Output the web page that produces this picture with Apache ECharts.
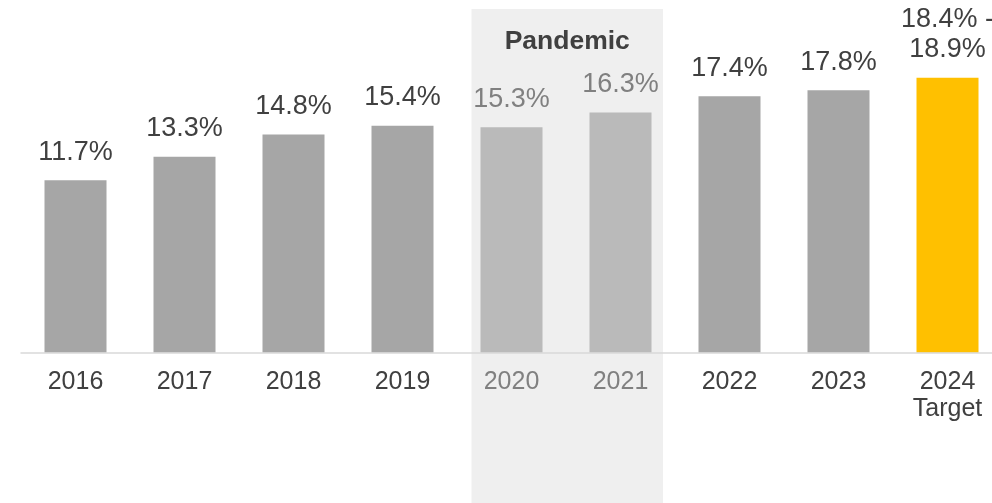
<!DOCTYPE html>
<html>
<head>
<meta charset="utf-8">
<script src="https://cdn.jsdelivr.net/npm/echarts@6/dist/echarts.min.js"></script>
<style>
  html, body { margin: 0; padding: 0; background: #ffffff; overflow: hidden; }
  #chart { width: 1002px; height: 503px; }
</style>
</head>
<body>
<div id="chart"></div>
<script>
// Years on the category axis; the final year is the target
const categories = ['2016', '2017', '2018', '2019', '2020', '2021', '2022', '2023', '2024\nTarget'];
// Share per year (%); the 2024 target is drawn at the middle of its range
const values = [11.7, 13.3, 14.8, 15.4, 15.3, 16.3, 17.4, 17.8, 18.65];
// Text printed above each bar
const valueLabels = ['11.7%', '13.3%', '14.8%', '15.4%', '15.3%', '16.3%', '17.4%', '17.8%', '18.4% -\n18.9%'];
// Years inside the highlighted pandemic band
const pandemicYears = ['2020', '2021'];
const bandTitle = 'Pandemic';
const targetCategory = '2024\nTarget';

const FONT = '"Liberation Sans", Arial, Helvetica, sans-serif';
const DARK = '#404040';
const MUTED = '#808080';

const chart = echarts.init(document.getElementById('chart'), null, { renderer: 'canvas' });

const barData = values.map((v, i) => {
  const cat = categories[i];
  let color = '#a6a6a6';
  if (pandemicYears.includes(cat)) color = '#bababa';
  if (cat === targetCategory) color = '#ffc000';
  return {
    value: v,
    itemStyle: { color: color },
    label: { color: pandemicYears.includes(cat) ? MUTED : DARK }
  };
});

chart.setOption({
  animation: false,
  backgroundColor: '#ffffff',
  grid: { left: 21, top: 28.4, right: 0, height: 324.3 },
  xAxis: {
    type: 'category',
    data: categories,
    axisLine: { show: true, lineStyle: { color: '#d9d9d9', width: 1.5 } },
    axisTick: { show: false },
    axisLabel: {
      margin: 16,
      fontFamily: FONT,
      fontSize: 25,
      lineHeight: 27,
      color: function (v) { return pandemicYears.includes(v) ? MUTED : DARK; }
    },
    z: 3
  },
  yAxis: {
    type: 'value',
    min: 0,
    max: 22,
    show: false,
    splitLine: { show: false }
  },
  series: [{
    type: 'bar',
    data: barData,
    barWidth: 62,
    label: {
      show: true,
      position: 'top',
      distance: 13,
      fontFamily: FONT,
      fontSize: 27,
      lineHeight: 30,
      formatter: function (p) { return valueLabels[p.dataIndex]; }
    },
    z: 2
  }]
});

// Shaded band behind the pandemic years, placed from the axis scale
function drawBand() {
  const first = chart.convertToPixel({ xAxisIndex: 0 }, pandemicYears[0]);
  const last = chart.convertToPixel({ xAxisIndex: 0 }, pandemicYears[pandemicYears.length - 1]);
  const band = chart.getModel().getComponent('xAxis', 0).axis.getBandWidth();
  const left = first - band * 0.367;
  const right = last + band * 0.39;
  const h = chart.getHeight();
  chart.setOption({
    graphic: [
      {
        type: 'rect',
        z: -10,
        silent: true,
        shape: { x: left, y: 9, width: right - left, height: h - 9 },
        style: { fill: '#efefef' }
      },
      {
        type: 'text',
        z: 5,
        silent: true,
        x: (left + right) / 2,
        y: 41.5,
        style: {
          text: bandTitle,
          fill: DARK,
          font: 'bold 26.5px ' + FONT,
          textAlign: 'center',
          textVerticalAlign: 'middle'
        }
      }
    ]
  });
}
drawBand();
</script>
</body>
</html>
